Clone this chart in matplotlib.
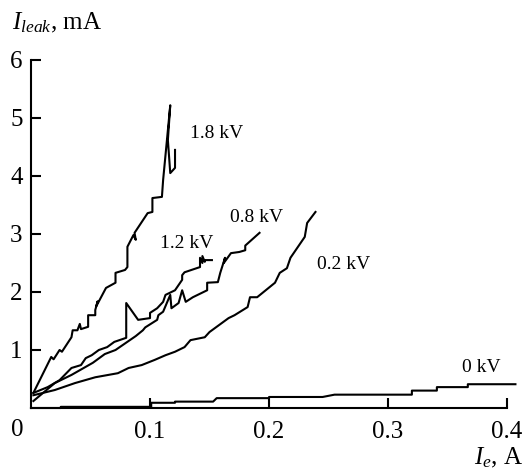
import matplotlib
matplotlib.use('Agg')
import matplotlib.pyplot as plt
import numpy as np

plt.rcParams['font.family'] = 'Liberation Serif'
plt.rcParams['mathtext.fontset'] = 'custom'
plt.rcParams['mathtext.rm'] = 'Liberation Serif'
plt.rcParams['mathtext.it'] = 'Liberation Serif:italic'

# data
x_18 = [0.002, 0.017, 0.019, 0.024, 0.026, 0.034, 0.035, 0.039, 0.041, 0.042, 0.048, 0.048,
        0.054, 0.054, 0.056, 0.055, 0.063, 0.071, 0.071, 0.079, 0.081, 0.081, 0.086, 0.088,
        0.087, 0.098, 0.102, 0.102, 0.110, 0.111, 0.117, 0.115, 0.117, 0.121, 0.121]
y_18 = [0.26, 0.88, 0.84, 1.00, 0.97, 1.22, 1.34, 1.34, 1.45, 1.36, 1.40, 1.60,
        1.60, 1.69, 1.84, 1.76, 2.07, 2.16, 2.33, 2.38, 2.43, 2.78, 2.98, 2.90,
        3.02, 3.36, 3.38, 3.62, 3.64, 3.93, 5.22, 4.62, 4.05, 4.14, 4.45]

x_12 = [0.002, 0.014, 0.024, 0.034, 0.042, 0.046, 0.051, 0.057, 0.064, 0.070, 0.080, 0.080,
        0.090, 0.100, 0.100, 0.106, 0.111, 0.113, 0.121, 0.123, 0.127, 0.127, 0.129, 0.142,
        0.142, 0.144, 0.144, 0.146, 0.146, 0.152]
y_12 = [0.26, 0.36, 0.48, 0.69, 0.74, 0.86, 0.91, 1.00, 1.05, 1.14, 1.21, 1.81,
        1.52, 1.55, 1.64, 1.72, 1.83, 1.95, 2.03, 2.09, 2.21, 2.29, 2.34, 2.43,
        2.59, 2.50, 2.62, 2.52, 2.55, 2.55]

x_08 = [0.002, 0.020, 0.034, 0.052, 0.062, 0.071, 0.088, 0.094, 0.096, 0.106, 0.107, 0.111,
        0.117, 0.118, 0.124, 0.127, 0.130, 0.136, 0.148, 0.148, 0.157, 0.159, 0.163, 0.162,
        0.168, 0.175, 0.180, 0.180, 0.192]
y_08 = [0.12, 0.43, 0.57, 0.78, 0.93, 1.00, 1.24, 1.34, 1.39, 1.52, 1.60, 1.66,
        1.95, 1.72, 1.81, 2.03, 1.83, 1.91, 2.03, 2.16, 2.17, 2.33, 2.59, 2.50,
        2.67, 2.69, 2.72, 2.80, 3.02]

x_02 = [0.002, 0.020, 0.037, 0.054, 0.073, 0.082, 0.093, 0.104, 0.113, 0.121, 0.129, 0.134,
        0.146, 0.150, 0.166, 0.171, 0.182, 0.184, 0.190, 0.205, 0.209, 0.215, 0.218, 0.230,
        0.232, 0.239]
y_02 = [0.22, 0.31, 0.43, 0.53, 0.60, 0.69, 0.74, 0.83, 0.91, 0.97, 1.05, 1.17,
        1.22, 1.31, 1.55, 1.60, 1.74, 1.91, 1.91, 2.16, 2.33, 2.41, 2.59, 2.95,
        3.19, 3.38]

x_0 = [0.0, 0.025, 0.025, 0.101, 0.101, 0.121, 0.121, 0.153, 0.156, 0.200, 0.200, 0.245,
       0.255, 0.320, 0.320, 0.341, 0.341, 0.367, 0.367, 0.407]
y_0 = [0.0, 0.0, 0.02, 0.02, 0.09, 0.09, 0.11, 0.11, 0.17, 0.17, 0.19, 0.19,
       0.23, 0.23, 0.30, 0.30, 0.36, 0.36, 0.41, 0.41]

labels = ['1.8 kV', '1.2 kV', '0.8 kV', '0.2 kV', '0 kV']
label_x = [0.134, 0.108, 0.167, 0.240, 0.362]
label_y = [4.74, 2.84, 3.28, 2.47, 0.69]

fig = plt.figure(figsize=(5.27, 4.72), dpi=100)
ax = fig.add_axes([31/527, 1-408/472, (519-31)/527, 348/472])

for xs, ys in [(x_18, y_18), (x_12, y_12), (x_08, y_08), (x_02, y_02), (x_0, y_0)]:
    ax.plot(xs, ys, color='black', lw=1.5, clip_on=False)

for t, lx, ly in zip(labels, label_x, label_y):
    ax.text(lx, ly, t, fontsize=14, va='center', ha='left')

ax.set_xlim(0, 0.41)
ax.set_ylim(0, 6)
ax.spines['top'].set_visible(False)
ax.spines['right'].set_visible(False)
ax.spines['left'].set_linewidth(1.5)
ax.spines['bottom'].set_linewidth(1.5)
ax.spines['bottom'].set_bounds(0, 0.4)

ax.set_xticks([0.1, 0.2, 0.3, 0.4])
ax.set_xticklabels(['0.1', '0.2', '0.3', '0.4'])
ax.set_yticks([1, 2, 3, 4, 5, 6])
ax.tick_params(direction='in', length=7, width=1.5, labelsize=18)
ax.tick_params(axis='x', pad=9)
ax.tick_params(axis='y', pad=6)

fig.text(17/527, 1-430/472, '0', fontsize=18, ha='center', va='center')
fig.text(12/527, 1-29/472, '$I_{leak}$, mA', fontsize=18, ha='left', va='baseline')
fig.text(523/527, 1-464/472, '$I_e$, A', fontsize=18, ha='right', va='baseline')

fig.savefig('out.png', dpi=100)
